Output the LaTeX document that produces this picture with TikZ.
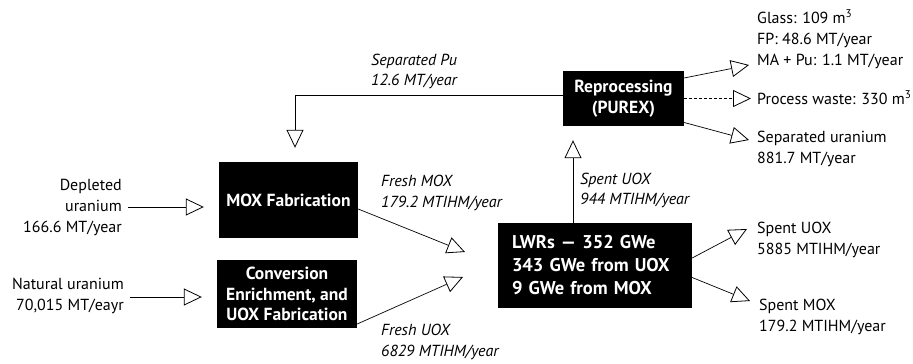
\documentclass[tikz,border=0pt]{standalone}
\usepackage{fontspec}
\setmainfont{PT Sans}
\usetikzlibrary{arrows.meta,calc}
\tikzset{
  box/.style={fill=black, text=white, font=\bfseries\fontsize{17.5}{20.5}\selectfont, align=center, inner sep=2pt},
  lbl/.style={font=\fontsize{16}{21}\selectfont, inner sep=0pt},
  ilbl/.style={font=\itshape\fontsize{16}{20.5}\selectfont, inner sep=0pt, align=left},
  arr/.style={draw=black, line width=0.7pt, -{Triangle[open, length=18pt, width=17pt, fill=white, line width=0.8pt]}},
}
\begin{document}
\begin{tikzpicture}[x=1pt,y=-1pt]
\useasboundingbox (0,0) rectangle (913,364);
% boxes
\node[box, minimum width=139pt, minimum height=76pt] (mox) at (288.5,200) {MOX Fabrication};
\node[box, minimum width=140pt, minimum height=68pt] (conv) at (287,294) {Conversion\\Enrichment, and\\UOX Fabrication};
\node[box, minimum width=194pt, minimum height=85pt, align=left, text width=166pt, font=\bfseries\fontsize{18.5}{23}\selectfont] (lwr) at (595,265.5) {LWRs --- 352 GWe\\343 GWe from UOX\\9 GWe from MOX};
\node[box, minimum width=121pt, minimum height=55pt] (repro) at (623.5,98.5) {Reprocessing\\(PUREX)};
% left labels
\node[lbl, align=right, anchor=east] (dep) at (122,207) {Depleted\\uranium\\166.6 MT/year};
\node[lbl, align=right, anchor=east] (nat) at (124,296) {Natural uranium\\70,015 MT/eayr};
% italic labels
\node[ilbl, anchor=west] (pul) at (371,71.5) {Separated Pu\\12.6 MT/year};
\node[ilbl, anchor=west] (fml) at (381,193) {Fresh MOX\\179.2 MTIHM/year};
\node[ilbl, anchor=west] (ful) at (381,342) {Fresh UOX\\6829 MTIHM/year};
\node[ilbl, anchor=west] (sul) at (580,190.5) {Spent UOX\\944 MTIHM/year};
% right labels
\node[lbl, anchor=west, align=left] (o1l) at (757,39) {Glass: 109 m\textsuperscript{3}\\FP: 48.6 MT/year\\MA + Pu: 1.1 MT/year};
\node[lbl, anchor=west] (o2l) at (757,98) {Process waste: 330 m\textsuperscript{3}};
\node[lbl, anchor=west, align=left] (o3l) at (757,149) {Separated uranium\\881.7 MT/year};
\node[lbl, anchor=west, align=left] (o4l) at (757,240) {Spent UOX\\5885 MTIHM/year};
\node[lbl, anchor=west, align=left] (o5l) at (759,316.5) {Spent MOX\\179.2 MTIHM/year};
% coordinates
\coordinate (puX) at (295,0);
\coordinate (spX) at (573,0);
\coordinate (fmT) at (465,252);
\coordinate (fuT) at (463,277);
\coordinate (o1) at (749,65);
\coordinate (o2) at (751,98.5);
\coordinate (o3) at (749,140);
\coordinate (o4) at (747,229);
\coordinate (o5) at (750,301);
% connectors
\draw[arr, shorten <=6pt, shorten >=15pt] (dep.east) -- (dep.east -| mox.west);
\draw[arr, shorten <=6pt, shorten >=15pt] ([yshift=-1pt]nat.east) -- ([yshift=-1pt]nat.east -| conv.west);
\draw[arr, shorten >=14pt] ([yshift=3pt]repro.west) -| (puX |- mox.north);
\draw[arr, shorten >=14pt] (spX |- lwr.north) -- (spX |- repro.south);
\draw[arr] ([yshift=-9pt]mox.east) -- (fmT);
\draw[arr] ([yshift=-30pt]conv.east) -- (fuT);
\draw[arr] ([yshift=20.5pt]repro.east) -- (o1);
\draw[arr, densely dashed] (repro.east) -- (o2);
\draw[arr] ([yshift=-24pt]repro.east) -- (o3);
\draw[arr] ([yshift=7.5pt]lwr.east) -- (o4);
\draw[arr] ([yshift=-12pt]lwr.east) -- (o5);
\end{tikzpicture}
\end{document}
